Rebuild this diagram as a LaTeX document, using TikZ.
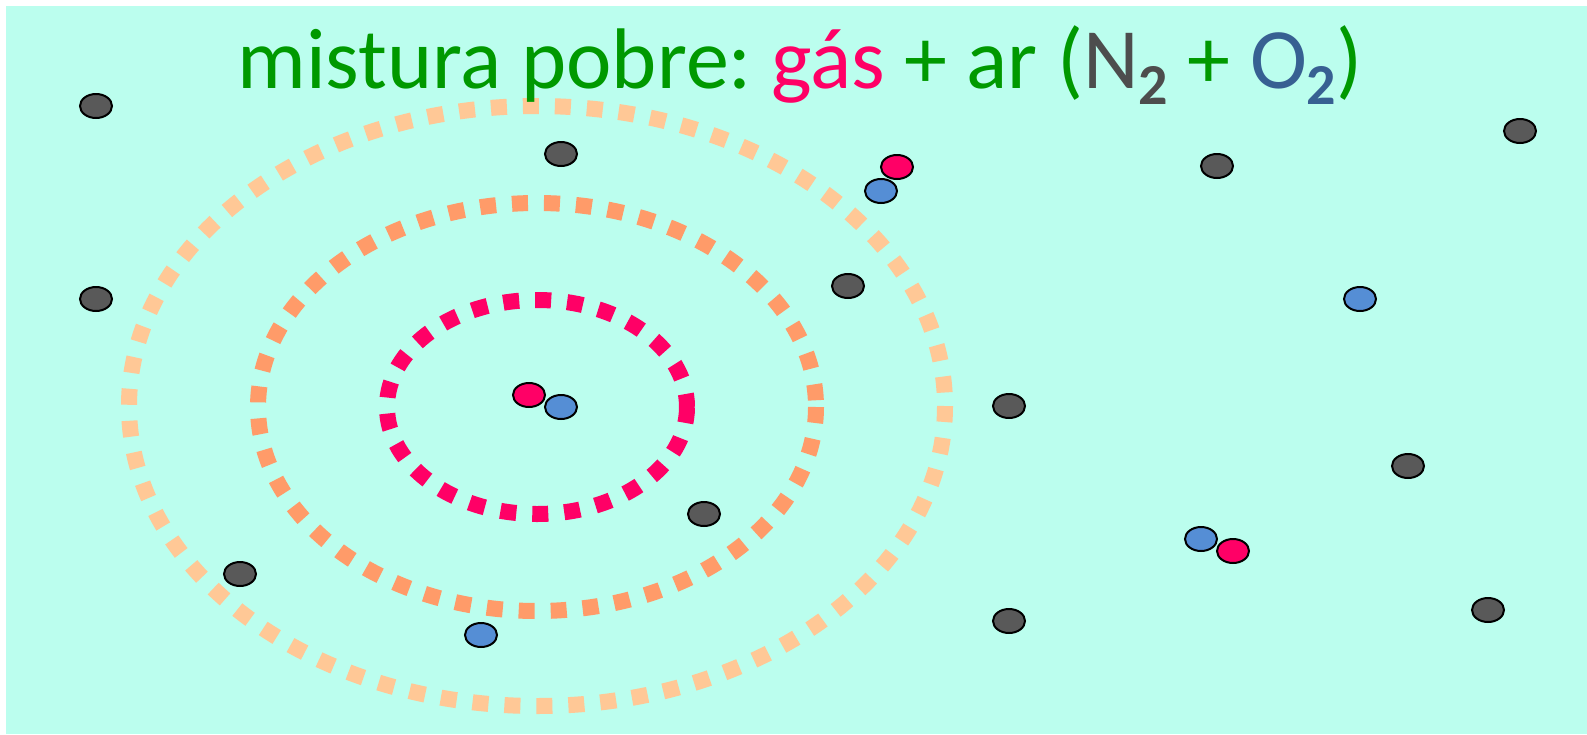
\documentclass[tikz,border=0pt]{standalone}
\usepackage{fontspec}
\setmainfont{Carlito}
\usetikzlibrary{shapes.geometric}
\definecolor{bgc}{RGB}{187,254,238}
\definecolor{peach}{RGB}{255,200,150}
\definecolor{orng}{RGB}{255,155,105}
\definecolor{mag}{RGB}{255,0,102}
\definecolor{molblue}{RGB}{85,142,213}
\definecolor{molgray}{RGB}{89,89,89}
\definecolor{ttlgreen}{RGB}{0,153,0}
\definecolor{ngray}{RGB}{77,77,77}
\definecolor{oblue}{RGB}{55,96,146}
\tikzset{
  mol/.style={ellipse, draw=black, line width=2pt, minimum width=32pt, minimum height=24pt, inner sep=0pt},
  gmol/.style={mol, fill=molgray},
  rmol/.style={mol, fill=mag},
  bmol/.style={mol, fill=molblue},
  ring/.style={line width=16pt, dash pattern=on 16pt off 16pt},
}
\newcommand{\subtwo}[1]{\raisebox{-16pt}{\fontsize{58}{58}\selectfont\bfseries\color{#1}2}}
\frenchspacing
\begin{document}
\begin{tikzpicture}[x=1pt,y=-1pt]
\useasboundingbox (0,0) rectangle (1587,734);
\fill[bgc] (6,6) rectangle (1587,734);
% rings
\draw[ring, peach] (537,406) ellipse [x radius=408, y radius=300];
\draw[ring, orng] (537,407) ellipse [x radius=279, y radius=204];
\draw[ring, mag] (537,407) ellipse [x radius=150, y radius=107];
% title
\node[anchor=base, inner sep=0pt, text=ttlgreen] (title) at (800,88)
  {\fontsize{86}{96}\selectfont mistura pobre: \textcolor{mag}{gás} + ar (\textcolor{ngray}{N\subtwo{ngray}} + \textcolor{oblue}{O\subtwo{oblue}})};
% gray molecules (N2)
\node[gmol] (g1) at (96,106) {};
\node[gmol] (g2) at (561,154) {};
\node[gmol] (g3) at (1217,166) {};
\node[gmol] (g4) at (1520,131) {};
\node[gmol] (g5) at (96,299) {};
\node[gmol] (g6) at (848,286) {};
\node[gmol] (g7) at (1009,406) {};
\node[gmol] (g8) at (1408,466) {};
\node[gmol] (g9) at (704,514) {};
\node[gmol] (g10) at (240,574) {};
\node[gmol] (g11) at (1009,621) {};
\node[gmol] (g12) at (1488,610) {};
% gas + O2 pairs
\node[rmol] (r1) at (529,395) {};
\node[bmol] (b1) at (561,407) {};
\node[bmol] (b2) at (881,191) {};
\node[rmol] (r2) at (897,167) {};
\node[bmol] (b3) at (1201,539) {};
\node[rmol] (r3) at (1233,551) {};
% lone O2
\node[bmol] (b4) at (1360,299) {};
\node[bmol] (b5) at (481,635) {};
\end{tikzpicture}
\end{document}
